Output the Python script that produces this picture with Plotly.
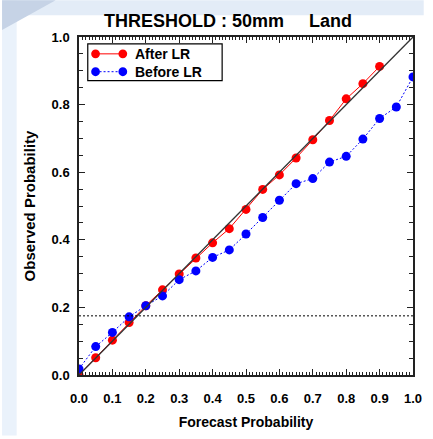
import plotly.graph_objects as go

# ---- data ----
forecast_after = [0.0, 0.05, 0.10, 0.15, 0.20, 0.25, 0.30, 0.35, 0.40, 0.45,
                  0.50, 0.55, 0.60, 0.65, 0.70, 0.75, 0.80, 0.85, 0.90]
observed_after = [0.0, 0.051, 0.103, 0.155, 0.205, 0.252, 0.299, 0.346, 0.391, 0.433,
                  0.490, 0.549, 0.592, 0.642, 0.696, 0.753, 0.817, 0.862, 0.913]
forecast_before = [0.0, 0.05, 0.10, 0.15, 0.20, 0.25, 0.30, 0.35, 0.40, 0.45, 0.50,
                   0.55, 0.60, 0.65, 0.70, 0.75, 0.80, 0.85, 0.90, 0.95, 1.0]
observed_before = [0.018, 0.084, 0.126, 0.172, 0.205, 0.234, 0.282, 0.308, 0.348, 0.370, 0.417,
                   0.466, 0.517, 0.566, 0.581, 0.630, 0.647, 0.698, 0.759, 0.793, 0.882]
diag_x = [0.0, 1.0]
diag_y = [0.0, 1.0]
climatology = 0.175
series_names = ["After LR", "Before LR"]
series_colors = ["#ff0000", "#0000ff"]

W, H = 433, 439
L, R, T, B = 79, 422, 37, 378


def px(x):
    return (x - L) / (R - L)


def py(y):
    return (B - y) / (B - T)


FONT = "Liberation Sans, Arial, Helvetica, sans-serif"
AX = "#222222"

fig = go.Figure()
fig.add_trace(go.Scatter(x=diag_x, y=diag_y, mode="lines", xaxis="x2", yaxis="y2",
                         line=dict(color="#333333", width=1.3), showlegend=False,
                         hoverinfo="skip"))
fig.add_trace(go.Scatter(x=forecast_after, y=observed_after, mode="lines+markers",
                         name=series_names[0], line=dict(color=series_colors[0], width=1),
                         marker=dict(color=series_colors[0], size=9)))
fig.add_trace(go.Scatter(x=forecast_before, y=observed_before, mode="lines+markers",
                         name=series_names[1],
                         line=dict(color=series_colors[1], width=1, dash="2px,2px"),
                         marker=dict(color=series_colors[1], size=9)))

shapes = [
    # slide background strips
    dict(type="rect", xref="paper", yref="paper", x0=px(0), x1=px(15), y0=py(H), y1=py(0),
         fillcolor="#eaf2fb", line=dict(width=0), layer="below"),
    dict(type="rect", xref="paper", yref="paper", x0=px(0), x1=px(W), y0=py(15), y1=py(0),
         fillcolor="#e3ecf7", line=dict(width=0), layer="below"),
    dict(type="path", xref="paper", yref="paper",
         path=f"M {px(0)},{py(0)} L {px(55)},{py(0)} L {px(0)},{py(30)} Z",
         fillcolor="#c6d3e6", line=dict(width=0), layer="below"),
    # climatology line
    dict(type="line", xref="paper", yref="y", x0=0, x1=1, y0=climatology, y1=climatology,
         line=dict(color="black", width=1, dash="2px,2px")),
    # legend box
    dict(type="rect", xref="paper", yref="paper", x0=px(88), x1=px(226), y0=py(81), y1=py(44),
         fillcolor="white", line=dict(color="black", width=1.2)),
]
annotations = [dict(text="THRESHOLD : 50mm" + "\u00a0" * 5 + "Land",
                    xref="paper", yref="paper", x=px(232), y=py(21),
                    xanchor="center", yanchor="middle", showarrow=False,
                    font=dict(family=FONT, size=18, color="black", weight="bold"))]
# legend glyphs
for i, (nm, col) in enumerate(zip(series_names, series_colors)):
    yy = 54 + 18 * i
    shapes.append(dict(type="line", xref="paper", yref="paper", x0=px(96), x1=px(124),
                       y0=py(yy), y1=py(yy),
                       line=dict(color=col, width=1, dash="solid" if i == 0 else "2px,2px")))
    for cx in (96, 124):
        shapes.append(dict(type="circle", xref="paper", yref="paper",
                           x0=px(cx - 4.5), x1=px(cx + 4.5), y0=py(yy + 4.5), y1=py(yy - 4.5),
                           fillcolor=col, line=dict(width=0)))
    annotations.append(dict(text=nm, xref="paper", yref="paper", x=px(134), y=py(yy),
                            xanchor="left", yanchor="middle", showarrow=False,
                            font=dict(family=FONT, size=14, color="black", weight="bold")))

tickfont = dict(family=FONT, size=13, color="black", weight="bold")
common = dict(showgrid=False, zeroline=False, showline=True, linecolor=AX, linewidth=1.5,
              ticks="inside", tickcolor=AX, range=[0, 1], fixedrange=True, tick0=0,
              ticklen=6, tickwidth=1)

fig.update_layout(
    width=W, height=H,
    margin=dict(l=L, r=W - R, t=T, b=H - B),
    paper_bgcolor="white", plot_bgcolor="white",
    shapes=shapes, annotations=annotations,
    showlegend=False,
    xaxis=dict(**common, dtick=0.1, tickformat=".1f", tickfont=tickfont,
               ticklabelstandoff=11,
               minor=dict(dtick=0.01, ticklen=3, ticks="inside", tickcolor=AX),
               title=dict(text="Forecast Probability", standoff=12,
                          font=dict(family=FONT, size=14, color="black", weight="bold"))),
    yaxis=dict(**common, dtick=0.2, tickformat=".1f", tickfont=tickfont,
               ticklabelstandoff=5,
               minor=dict(dtick=0.05, ticklen=4, ticks="inside", tickcolor=AX),
               title=dict(text="Observed Probability", standoff=12,
                          font=dict(family=FONT, size=15, color="black", weight="bold"))),
    xaxis2=dict(**common, dtick=0.1, overlaying="x", side="top", showticklabels=False,
                minor=dict(dtick=0.01, ticklen=3, ticks="inside", tickcolor=AX)),
    yaxis2=dict(**common, dtick=0.2, overlaying="y", side="right", showticklabels=False,
                minor=dict(dtick=0.05, ticklen=4, ticks="inside", tickcolor=AX)),
)

fig.write_html("out.html")
